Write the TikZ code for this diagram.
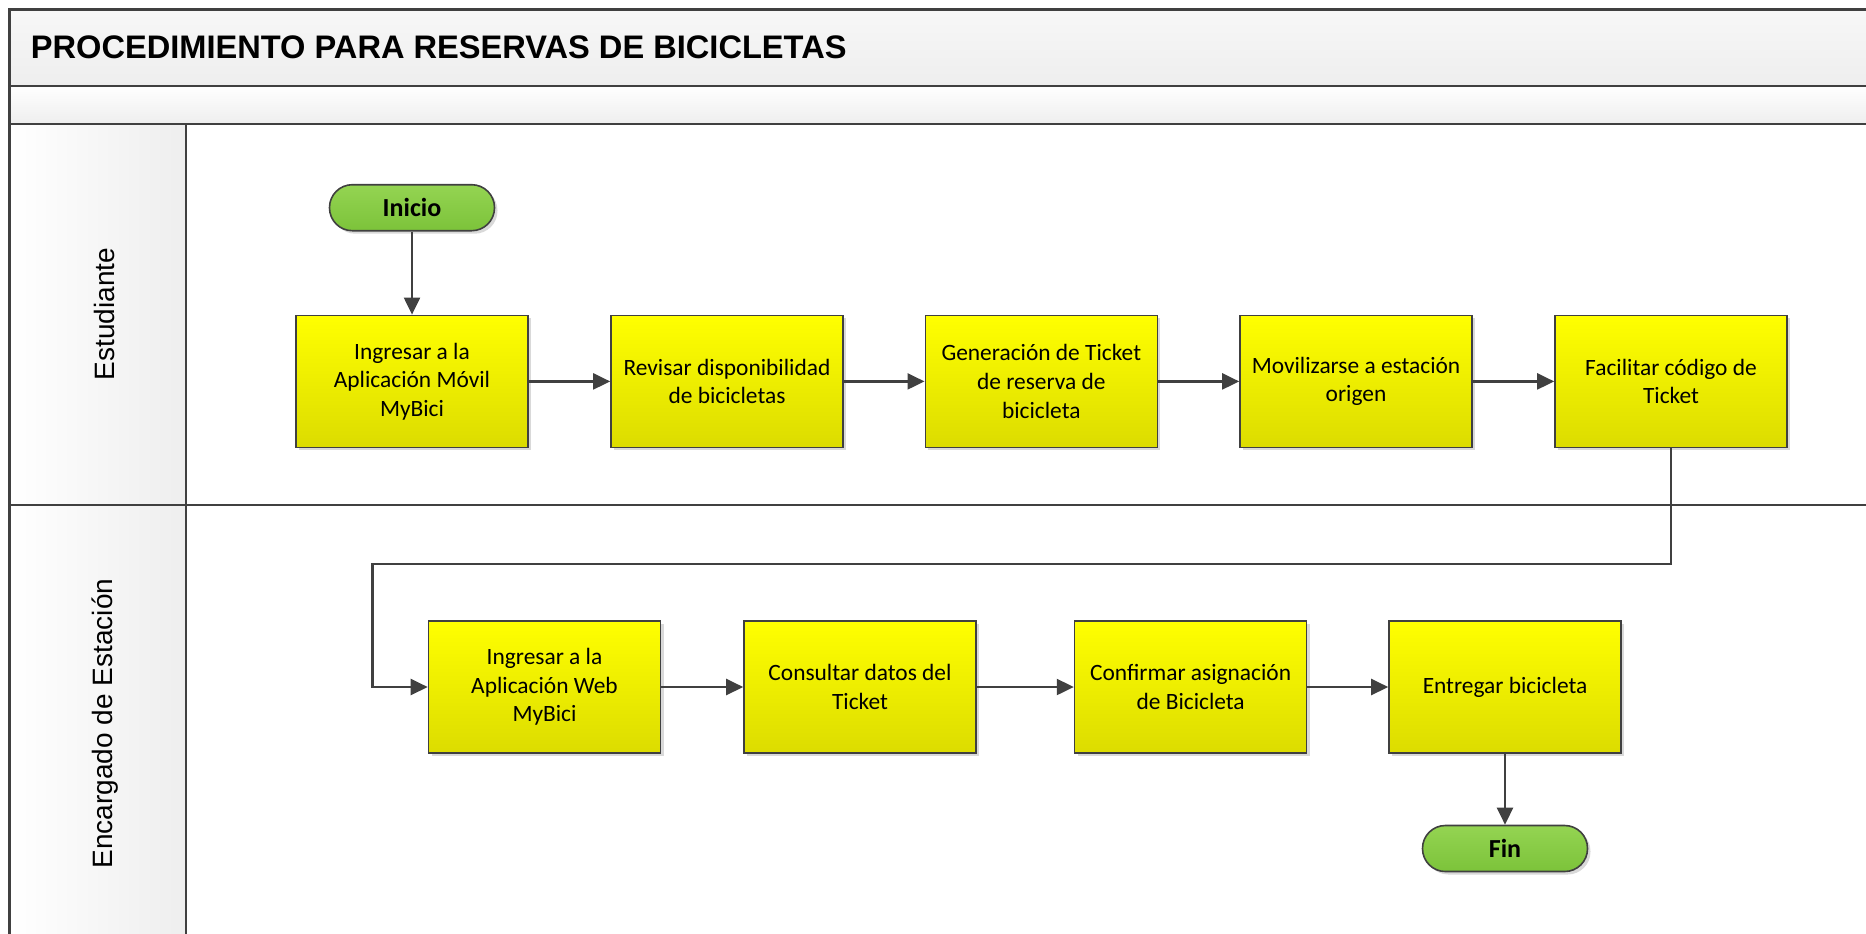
\documentclass[tikz,border=0pt]{standalone}
\usepackage{fontspec}
\setmainfont{Carlito}
\newfontfamily\lanefont{Liberation Sans}
\usetikzlibrary{arrows.meta,shadows}

\definecolor{linea}{HTML}{404040}
\definecolor{amarillo}{HTML}{FFFF00}
\definecolor{amarilloosc}{HTML}{DCDC00}
\definecolor{verde}{HTML}{94D452}
\definecolor{verdeosc}{HTML}{7CC33A}
\definecolor{banda}{HTML}{EEEEEE}

\tikzset{
  sombra/.style={drop shadow={shadow xshift=1.5pt, shadow yshift=-1.5pt, fill=black, opacity=0.15}},
  tarea/.style={draw=linea, line width=0.8pt, top color=amarillo, bottom color=amarilloosc,
    minimum width=116pt, minimum height=66pt, align=center, inner sep=2pt,
    font=\fontsize{11.7}{14.3}\selectfont, sombra},
  terminal/.style={draw=linea, line width=0.8pt, rounded corners=11.4pt, top color=verde, bottom color=verdeosc,
    minimum width=82.5pt, minimum height=23pt, font=\fontsize{13}{15}\selectfont\bfseries, sombra},
  carril/.style={draw=linea, line width=1.1pt},
  etiqueta/.style={rotate=90, font=\lanefont\fontsize{14}{16}\selectfont},
  flecha/.style={draw=linea, line width=1.1pt, -{Triangle[length=8.5pt,width=8pt]}}
}

\begin{document}
\begin{tikzpicture}[x=0.5pt, y=-0.5pt]
\clip (0,0) rectangle (1866,933);
% bandas y carriles
\draw [carril, top color=white!97!black, bottom color=banda] (9.5,9.5) rectangle (1900,85.7);
\draw [carril, top color=white, bottom color=banda] (9.5,85.7) rectangle (1900,123.8);
\draw [carril] (9.5,123.8) rectangle (1900,504.6);
\draw [carril, left color=white, right color=banda] (9.5,123.8) rectangle (185.6,504.6);
\draw [carril] (9.5,504.6) rectangle (1900,1000);
\draw [carril, left color=white, right color=banda] (9.5,504.6) rectangle (185.6,1000);
\node [anchor=west, font=\lanefont\fontsize{16.3}{19}\selectfont\bfseries] (titulo) at (23.8,47.6) {PROCEDIMIENTO PARA RESERVAS DE BICICLETAS};
\node [etiqueta] (estudiante) at (104.7,314) {Estudiante};
\node [etiqueta] (encargado) at (104.7,723.5) {Encargado de Estación};

% estudiante
\node [terminal] (inicio) at (412,207.7) {Inicio};
\node [tarea] (ingresarApp) at (412,381.4) {Ingresar a la\\Aplicación Móvil\\MyBici};
\node [tarea] (revisar) at (727,381.4) {Revisar disponibilidad\\de bicicletas};
\node [tarea] (generar) at (1041.3,381.4) {Generación de Ticket\\de reserva de\\bicicleta};
\node [tarea] (movilizar) at (1356,381.4) {Movilizarse a estación\\origen};
\node [tarea] (facilitar) at (1671,381.4) {Facilitar código de\\Ticket};

% encargado de estacion
\node [tarea] (ingresarWeb) at (544.5,687) {Ingresar a la\\Aplicación Web\\MyBici};
\node [tarea] (consultar) at (860,687) {Consultar datos del\\Ticket};
\node [tarea] (confirmar) at (1190.6,687) {Confirmar asignación\\de Bicicleta};
\node [tarea] (entregar) at (1505,687) {Entregar bicicleta};
\node [terminal] (fin) at (1505,848.5) {Fin};
\coordinate (giro) at (372.5,564);

% conectores
\draw [flecha] (inicio) -- (ingresarApp);
\draw [flecha] (ingresarApp) -- (revisar);
\draw [flecha] (revisar) -- (generar);
\draw [flecha] (generar) -- (movilizar);
\draw [flecha] (movilizar) -- (facilitar);
\draw [flecha] (facilitar.south) |- (giro) |- (ingresarWeb.west);
\draw [flecha] (ingresarWeb) -- (consultar);
\draw [flecha] (consultar) -- (confirmar);
\draw [flecha] (confirmar) -- (entregar);
\draw [flecha] (entregar) -- (fin);
\end{tikzpicture}
\end{document}
